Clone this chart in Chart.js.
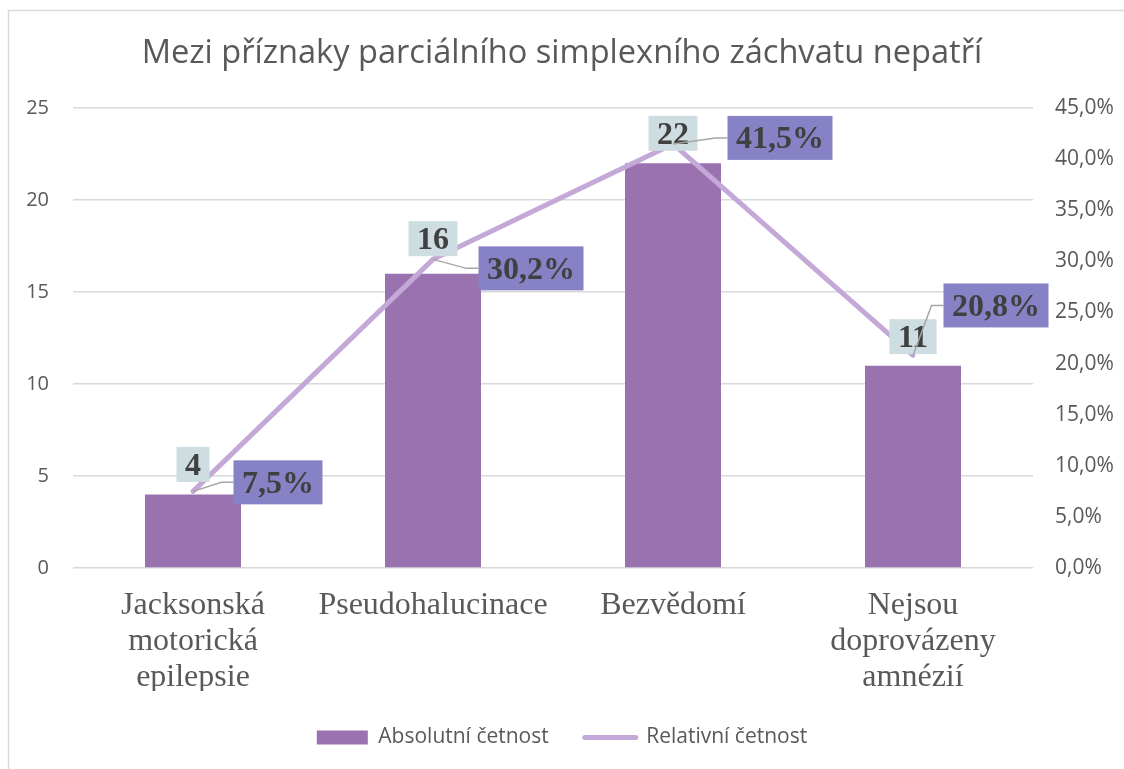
<!DOCTYPE html>
<html>
<head>
<meta charset="utf-8">
<script src="https://cdn.jsdelivr.net/npm/chart.js@4.4.1/dist/chart.umd.min.js"></script>
<style>
  html, body { margin: 0; padding: 0; background: #ffffff; }
  #wrap { width: 1124px; height: 769px; position: relative; }
</style>
</head>
<body>
<div id="wrap"><canvas id="c" width="1124" height="769"></canvas></div>
<script>
// ---- data ----
const categories = [
  ["Jacksonská", "motorická", "epilepsie"],
  "Pseudohalucinace",
  "Bezvědomí",
  ["Nejsou", "doprovázeny", "amnézií"]
];
const absoluteCounts = [4, 16, 22, 11];
const relativePercent = [7.5, 30.2, 41.5, 20.8];
const seriesNames = ["Absolutní četnost", "Relativní četnost"];
const chartTitle = "Mezi příznaky parciálního simplexního záchvatu nepatří";

// ---- style / layout constants ----
const SANS = "'Open Sans', 'Noto Sans', sans-serif";
const SERIF = "'Liberation Serif', 'DejaVu Serif', serif";
const barColor = "#9B72B0";
const lineColor = "#C4A9D8";
const gridColor = "#D9D9D9";
const textGray = "#595959";
const labelText = "#404040";
const barLabelBg = "#CEDDE2";
const pctLabelBg = "#8782C6";
const barLabelDy = [-30, -35, -30, -29];
const pctLabelOffsets = [[85, -9], [98, 9], [107, -6], [83, -50]];

const fmtPct = v => v.toFixed(1).replace('.', ',') + '%';

const frame = {
  id: 'frame',
  beforeDraw(chart) {
    const ctx = chart.ctx;
    ctx.save();
    ctx.fillStyle = '#ffffff';
    ctx.fillRect(0, 0, chart.width, chart.height);
    ctx.strokeStyle = gridColor;
    ctx.lineWidth = 1.5;
    ctx.strokeRect(8.5, 10.5, 1300, 1000);
    ctx.restore();
  }
};

const dataLabels = {
  id: 'dataLabels',
  afterDatasetsDraw(chart) {
    const ctx = chart.ctx;
    const barMeta = chart.getDatasetMeta(0);
    const lineMeta = chart.getDatasetMeta(1);
    ctx.save();
    ctx.font = "bold 32px " + SERIF;
    ctx.textAlign = 'center';
    ctx.textBaseline = 'middle';
    const padX = 8.5;
    // bar labels
    barMeta.data.forEach((bar, i) => {
      const txt = String(absoluteCounts[i]);
      const w = ctx.measureText(txt).width + 2 * padX;
      const h = 35;
      const cx = bar.x, cy = bar.y + barLabelDy[i];
      ctx.fillStyle = barLabelBg;
      ctx.fillRect(cx - w / 2, cy - h / 2, w, h);
      ctx.fillStyle = labelText;
      ctx.fillText(txt, cx, cy + 2);
    });
    // percent labels with leader lines
    lineMeta.data.forEach((pt, i) => {
      const txt = fmtPct(relativePercent[i]);
      const w = ctx.measureText(txt).width + 2 * padX;
      const h = 44;
      const cx = pt.x + pctLabelOffsets[i][0];
      const cy = pt.y + pctLabelOffsets[i][1];
      const left = cx - w / 2;
      ctx.strokeStyle = '#A6A6A6';
      ctx.lineWidth = 1.5;
      ctx.beginPath();
      ctx.moveTo(pt.x, pt.y);
      ctx.lineTo(left - 12, cy);
      ctx.lineTo(left, cy);
      ctx.stroke();
      ctx.fillStyle = pctLabelBg;
      ctx.fillRect(left, cy - h / 2, w, h);
      ctx.fillStyle = labelText;
      ctx.fillText(txt, cx, cy + 2);
    });
    ctx.restore();
  }
};

new Chart(document.getElementById('c'), {
  type: 'bar',
  data: {
    labels: categories,
    datasets: [
      {
        type: 'bar',
        label: seriesNames[0],
        data: absoluteCounts,
        backgroundColor: barColor,
        borderWidth: 0,
        yAxisID: 'y',
        order: 2,
        categoryPercentage: 1.0,
        barPercentage: 0.4
      },
      {
        type: 'line',
        label: seriesNames[1],
        data: relativePercent,
        borderColor: lineColor,
        backgroundColor: lineColor,
        borderWidth: 5,
        borderCapStyle: 'round',
        borderJoinStyle: 'round',
        pointRadius: 0,
        tension: 0,
        yAxisID: 'y1',
        order: 1
      }
    ]
  },
  options: {
    responsive: false,
    animation: false,
    devicePixelRatio: 1,
    layout: { padding: { left: 0, right: 0, top: 0, bottom: 11 } },
    plugins: {
      title: {
        display: true,
        text: chartTitle,
        color: textGray,
        font: { family: SANS, size: 32.6, weight: 'normal', lineHeight: 1.2 },
        padding: { top: 34, bottom: 35 }
      },
      legend: {
        display: true,
        position: 'bottom',
        labels: {
          color: textGray,
          font: { family: SANS, size: 21 },
          usePointStyle: true,
          pointStyleWidth: 51,
          boxHeight: 14,
          padding: 36,
          generateLabels(chart) {
            const items = Chart.defaults.plugins.legend.labels.generateLabels(chart);
            items.sort((a, b) => a.datasetIndex - b.datasetIndex);
            items.forEach(it => {
              if (it.datasetIndex === 0) {
                it.pointStyle = 'rect';
                it.fillStyle = barColor;
                it.strokeStyle = barColor;
                it.lineWidth = 0;
              } else {
                it.pointStyle = 'line';
                it.strokeStyle = lineColor;
                it.lineWidth = 5;
                it.lineCap = 'round';
              }
            });
            return items;
          }
        }
      },
      tooltip: { enabled: false }
    },
    scales: {
      x: {
        grid: { display: false, drawTicks: false },
        border: { display: false },
        ticks: {
          color: textGray,
          font: { family: SERIF, size: 32, lineHeight: 1.125 },
          padding: 20,
          maxRotation: 0,
          autoSkip: false
        },
        afterFit(scale) { scale.height = 123; }
      },
      y: {
        position: 'left',
        min: 0, max: 25,
        ticks: {
          stepSize: 5,
          color: textGray,
          font: { family: SANS, size: 20 },
          padding: 24
        },
        grid: { color: gridColor, lineWidth: 1.5, drawTicks: false },
        border: { display: false },
        afterFit(scale) { scale.width = 73; }
      },
      y1: {
        position: 'right',
        min: 0, max: 45,
        ticks: {
          stepSize: 5,
          color: textGray,
          font: { family: SANS, size: 21 },
          padding: 22,
          callback: v => fmtPct(v)
        },
        grid: { display: false, drawTicks: false },
        border: { display: false },
        afterFit(scale) { scale.width = 91; }
      }
    }
  },
  plugins: [frame, dataLabels]
});
</script>
</body>
</html>
